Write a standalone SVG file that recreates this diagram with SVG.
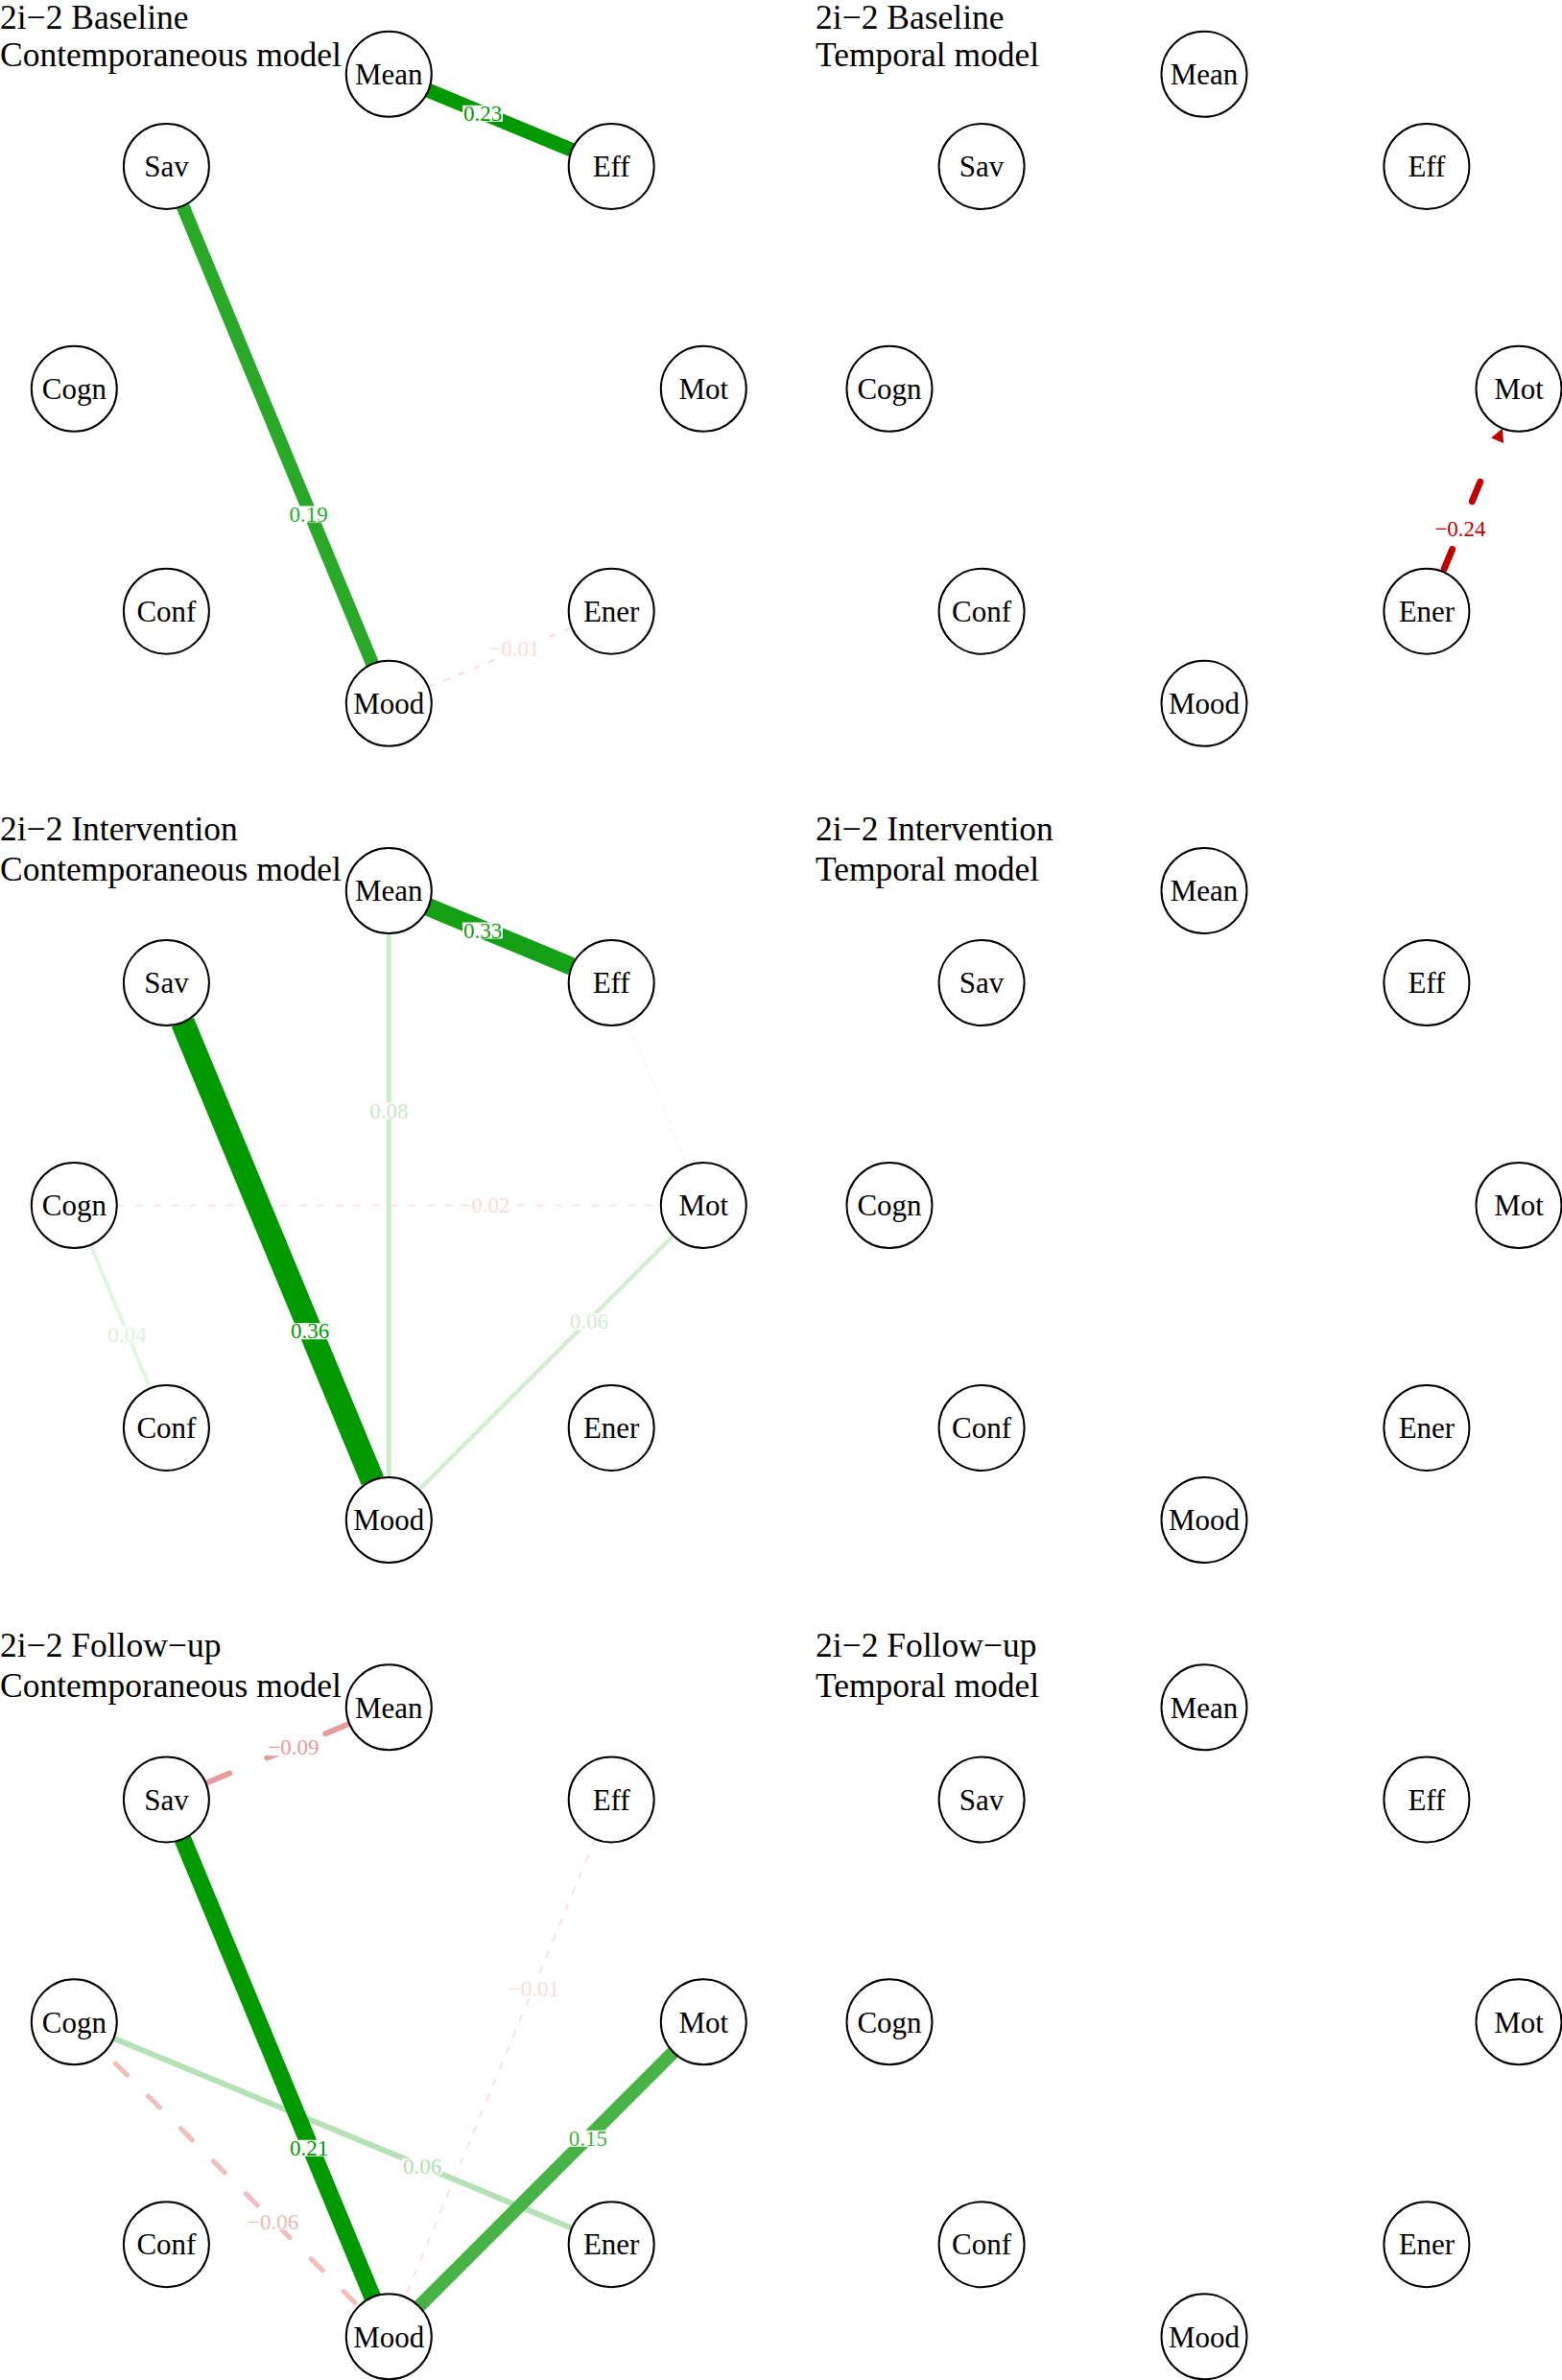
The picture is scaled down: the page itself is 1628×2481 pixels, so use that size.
<svg xmlns="http://www.w3.org/2000/svg" width="1628" height="2481" viewBox="0 0 1628 2481">
<style>
.bg{fill:#ffffff}
.title{font-family:"Liberation Serif","Times New Roman",serif;font-size:35.5px;fill:#000}
.node circle{fill:#ffffff;stroke:#000;stroke-width:2}
.node text{font-family:"Liberation Serif","Times New Roman",serif;font-size:31px;fill:#000;text-anchor:middle}
.edge{fill:none}
.elbl text{font-family:"Liberation Serif","Times New Roman",serif;font-size:23px;text-anchor:middle}
.elbl rect{fill:#ffffff}
</style>
<rect class="bg" x="0" y="0" width="1628" height="2481"/>

<g id="titles">
<text class="title" x="0" y="30">2i−2 Baseline</text>
<text class="title" x="0" y="69">Contemporaneous model</text>
<text class="title" x="850" y="30">2i−2 Baseline</text>
<text class="title" x="850" y="69">Temporal model</text>
<text class="title" x="0" y="876">2i−2 Intervention</text>
<text class="title" x="0" y="918">Contemporaneous model</text>
<text class="title" x="850" y="876">2i−2 Intervention</text>
<text class="title" x="850" y="918">Temporal model</text>
<text class="title" x="0" y="1727">2i−2 Follow−up</text>
<text class="title" x="0" y="1769">Contemporaneous model</text>
<text class="title" x="850" y="1727">2i−2 Follow−up</text>
<text class="title" x="850" y="1769">Temporal model</text>
</g>

<g id="connectors">
<g id="edges-baseline-contemporaneous" transform="translate(405.3,405.3)">
<path class="edge" d="M41.1,311.0 L190.8,248.9" stroke="#F9DCDC" stroke-width="2" stroke-dasharray="7 10"/>
<path class="edge" d="M-214.9,-190.8 L-17.0,286.9" stroke="#2AA82A" stroke-width="14"/>
<path class="edge" d="M41.1,-311.0 L190.8,-248.9" stroke="#009900" stroke-width="15"/>
</g>
<g id="edges-baseline-temporal" transform="translate(1255,405.3)">
<path class="edge" d="M248.9,190.8 L305.6,54.0" stroke="#BF0000" stroke-width="7" stroke-linecap="round" stroke-dasharray="22 54" stroke-dashoffset="-3.5"/>
<polygon points="311.0,41.1 312.1,56.7 299.1,51.3" fill="#BF0000"/>
</g>
<g id="edges-intervention-contemporaneous" transform="translate(405.3,1256.5)">
<path class="edge" d="M248.9,-190.8 L311.0,-41.1" stroke="#F3F3F3" stroke-width="1.5" stroke-dasharray="3 5"/>
<path class="edge" d="M-283.5,0 L283.5,0" stroke="#FCE4E4" stroke-width="2" stroke-dasharray="8 11"/>
<path class="edge" d="M-311.0,41.1 L-248.9,190.8" stroke="#E2F4E2" stroke-width="4"/>
<path class="edge" d="M296.5,31.5 L31.5,296.5" stroke="#D3EED3" stroke-width="4.5"/>
<path class="edge" d="M0,-283.5 L0,283.5" stroke="#CDEBCD" stroke-width="5"/>
<path class="edge" d="M41.1,-311.0 L190.8,-248.9" stroke="#14A014" stroke-width="19"/>
<path class="edge" d="M-214.9,-190.8 L-17.0,286.9" stroke="#009900" stroke-width="25"/>
</g>
<g id="edges-followup-contemporaneous" transform="translate(405.3,2107.8)">
<path class="edge" d="M214.9,-190.8 L17.0,286.9" stroke="#FBE2E2" stroke-width="2" stroke-dasharray="8 10"/>
<path class="edge" d="M-296.5,31.5 L-31.5,296.5" stroke="#F2BDBD" stroke-width="5" stroke-linecap="round" stroke-dasharray="17 31" stroke-dashoffset="-16.5"/>
<path class="edge" d="M-286.9,17.0 L190.8,214.9" stroke="#B5E2B5" stroke-width="6"/>
<path class="edge" d="M-190.8,-248.9 L-41.1,-311.0" stroke="#E89B9B" stroke-width="6" stroke-linecap="round" stroke-dasharray="24 42" stroke-dashoffset="-3"/>
<path class="edge" d="M296.5,31.5 L31.5,296.5" stroke="#47B347" stroke-width="14"/>
<path class="edge" d="M-214.9,-190.8 L-17.0,286.9" stroke="#009900" stroke-width="18"/>
</g>
</g>

<g id="edge-labels" class="elbl">
<rect x="482" y="109.8" width="42" height="17"/><text x="503" y="126" fill="#009900">0.23</text>
<rect x="300.7" y="527.5" width="42" height="17"/><text x="321.7" y="543.7" fill="#2AA82A">0.19</text>
<rect x="509.5" y="668.2" width="55" height="17"/><text x="536" y="684.4" fill="#FBDADA">−0.01</text>
<rect x="1494.5" y="542.5" width="55" height="17"/><text x="1522" y="558.7" fill="#BF0000">−0.24</text>
<rect x="482" y="961.5" width="42" height="17"/><text x="503" y="977.7" fill="#14A014">0.33</text>
<rect x="384.3" y="1149.5" width="42" height="17"/><text x="405.3" y="1165.7" fill="#C8E8C8">0.08</text>
<rect x="477.5" y="1248.2" width="55" height="17"/><text x="505" y="1264.4" fill="#FBDCDC">−0.02</text>
<rect x="111.3" y="1382.5" width="42" height="17"/><text x="132.3" y="1398.7" fill="#DDF1DD">0.04</text>
<rect x="302" y="1379.2" width="42" height="17"/><text x="323" y="1395.4" fill="#009900">0.36</text>
<rect x="592.8" y="1369.2" width="42" height="17"/><text x="613.8" y="1385.4" fill="#D0EDD0">0.06</text>
<rect x="278.5" y="1813.2" width="55" height="17"/><text x="306" y="1829.4" fill="#E89B9B">−0.09</text>
<rect x="528.9" y="2064.5" width="55" height="17"/><text x="556.4" y="2080.7" fill="#FADADA">−0.01</text>
<rect x="301" y="2230.8" width="42" height="17"/><text x="322" y="2247" fill="#009900">0.21</text>
<rect x="419" y="2249.8" width="42" height="17"/><text x="440" y="2266" fill="#B0E0B0">0.06</text>
<rect x="591.8" y="2220.8" width="42" height="17"/><text x="612.8" y="2237" fill="#45B245">0.15</text>
<rect x="257.1" y="2307.5" width="55" height="17"/><text x="284.6" y="2323.7" fill="#F0B8B8">−0.06</text>
</g>

<g id="nodes">
<g id="bc-mean" class="node"><circle cx="405.3" cy="77.3" r="44.5"/><text x="405.3" y="88">Mean</text></g>
<g id="bc-eff" class="node"><circle cx="637.2" cy="173.4" r="44.5"/><text x="637.2" y="184.1">Eff</text></g>
<g id="bc-mot" class="node"><circle cx="733.3" cy="405.3" r="44.5"/><text x="733.3" y="416">Mot</text></g>
<g id="bc-ener" class="node"><circle cx="637.2" cy="637.2" r="44.5"/><text x="637.2" y="647.9">Ener</text></g>
<g id="bc-mood" class="node"><circle cx="405.3" cy="733.3" r="44.5"/><text x="405.3" y="744">Mood</text></g>
<g id="bc-conf" class="node"><circle cx="173.4" cy="637.2" r="44.5"/><text x="173.4" y="647.9">Conf</text></g>
<g id="bc-cogn" class="node"><circle cx="77.3" cy="405.3" r="44.5"/><text x="77.3" y="416">Cogn</text></g>
<g id="bc-sav" class="node"><circle cx="173.4" cy="173.4" r="44.5"/><text x="173.4" y="184.1">Sav</text></g>

<g id="bt-mean" class="node"><circle cx="1255" cy="77.3" r="44.5"/><text x="1255" y="88">Mean</text></g>
<g id="bt-eff" class="node"><circle cx="1486.9" cy="173.4" r="44.5"/><text x="1486.9" y="184.1">Eff</text></g>
<g id="bt-mot" class="node"><circle cx="1583" cy="405.3" r="44.5"/><text x="1583" y="416">Mot</text></g>
<g id="bt-ener" class="node"><circle cx="1486.9" cy="637.2" r="44.5"/><text x="1486.9" y="647.9">Ener</text></g>
<g id="bt-mood" class="node"><circle cx="1255" cy="733.3" r="44.5"/><text x="1255" y="744">Mood</text></g>
<g id="bt-conf" class="node"><circle cx="1023.1" cy="637.2" r="44.5"/><text x="1023.1" y="647.9">Conf</text></g>
<g id="bt-cogn" class="node"><circle cx="927" cy="405.3" r="44.5"/><text x="927" y="416">Cogn</text></g>
<g id="bt-sav" class="node"><circle cx="1023.1" cy="173.4" r="44.5"/><text x="1023.1" y="184.1">Sav</text></g>

<g id="ic-mean" class="node"><circle cx="405.3" cy="928.5" r="44.5"/><text x="405.3" y="939.2">Mean</text></g>
<g id="ic-eff" class="node"><circle cx="637.2" cy="1024.6" r="44.5"/><text x="637.2" y="1035.3">Eff</text></g>
<g id="ic-mot" class="node"><circle cx="733.3" cy="1256.5" r="44.5"/><text x="733.3" y="1267.2">Mot</text></g>
<g id="ic-ener" class="node"><circle cx="637.2" cy="1488.4" r="44.5"/><text x="637.2" y="1499.1">Ener</text></g>
<g id="ic-mood" class="node"><circle cx="405.3" cy="1584.5" r="44.5"/><text x="405.3" y="1595.2">Mood</text></g>
<g id="ic-conf" class="node"><circle cx="173.4" cy="1488.4" r="44.5"/><text x="173.4" y="1499.1">Conf</text></g>
<g id="ic-cogn" class="node"><circle cx="77.3" cy="1256.5" r="44.5"/><text x="77.3" y="1267.2">Cogn</text></g>
<g id="ic-sav" class="node"><circle cx="173.4" cy="1024.6" r="44.5"/><text x="173.4" y="1035.3">Sav</text></g>

<g id="it-mean" class="node"><circle cx="1255" cy="928.5" r="44.5"/><text x="1255" y="939.2">Mean</text></g>
<g id="it-eff" class="node"><circle cx="1486.9" cy="1024.6" r="44.5"/><text x="1486.9" y="1035.3">Eff</text></g>
<g id="it-mot" class="node"><circle cx="1583" cy="1256.5" r="44.5"/><text x="1583" y="1267.2">Mot</text></g>
<g id="it-ener" class="node"><circle cx="1486.9" cy="1488.4" r="44.5"/><text x="1486.9" y="1499.1">Ener</text></g>
<g id="it-mood" class="node"><circle cx="1255" cy="1584.5" r="44.5"/><text x="1255" y="1595.2">Mood</text></g>
<g id="it-conf" class="node"><circle cx="1023.1" cy="1488.4" r="44.5"/><text x="1023.1" y="1499.1">Conf</text></g>
<g id="it-cogn" class="node"><circle cx="927" cy="1256.5" r="44.5"/><text x="927" y="1267.2">Cogn</text></g>
<g id="it-sav" class="node"><circle cx="1023.1" cy="1024.6" r="44.5"/><text x="1023.1" y="1035.3">Sav</text></g>

<g id="fc-mean" class="node"><circle cx="405.3" cy="1779.8" r="44.5"/><text x="405.3" y="1790.5">Mean</text></g>
<g id="fc-eff" class="node"><circle cx="637.2" cy="1875.9" r="44.5"/><text x="637.2" y="1886.6">Eff</text></g>
<g id="fc-mot" class="node"><circle cx="733.3" cy="2107.8" r="44.5"/><text x="733.3" y="2118.5">Mot</text></g>
<g id="fc-ener" class="node"><circle cx="637.2" cy="2339.7" r="44.5"/><text x="637.2" y="2350.4">Ener</text></g>
<g id="fc-mood" class="node"><circle cx="405.3" cy="2435.8" r="44.5"/><text x="405.3" y="2446.5">Mood</text></g>
<g id="fc-conf" class="node"><circle cx="173.4" cy="2339.7" r="44.5"/><text x="173.4" y="2350.4">Conf</text></g>
<g id="fc-cogn" class="node"><circle cx="77.3" cy="2107.8" r="44.5"/><text x="77.3" y="2118.5">Cogn</text></g>
<g id="fc-sav" class="node"><circle cx="173.4" cy="1875.9" r="44.5"/><text x="173.4" y="1886.6">Sav</text></g>

<g id="ft-mean" class="node"><circle cx="1255" cy="1779.8" r="44.5"/><text x="1255" y="1790.5">Mean</text></g>
<g id="ft-eff" class="node"><circle cx="1486.9" cy="1875.9" r="44.5"/><text x="1486.9" y="1886.6">Eff</text></g>
<g id="ft-mot" class="node"><circle cx="1583" cy="2107.8" r="44.5"/><text x="1583" y="2118.5">Mot</text></g>
<g id="ft-ener" class="node"><circle cx="1486.9" cy="2339.7" r="44.5"/><text x="1486.9" y="2350.4">Ener</text></g>
<g id="ft-mood" class="node"><circle cx="1255" cy="2435.8" r="44.5"/><text x="1255" y="2446.5">Mood</text></g>
<g id="ft-conf" class="node"><circle cx="1023.1" cy="2339.7" r="44.5"/><text x="1023.1" y="2350.4">Conf</text></g>
<g id="ft-cogn" class="node"><circle cx="927" cy="2107.8" r="44.5"/><text x="927" y="2118.5">Cogn</text></g>
<g id="ft-sav" class="node"><circle cx="1023.1" cy="1875.9" r="44.5"/><text x="1023.1" y="1886.6">Sav</text></g>
</g>
</svg>
